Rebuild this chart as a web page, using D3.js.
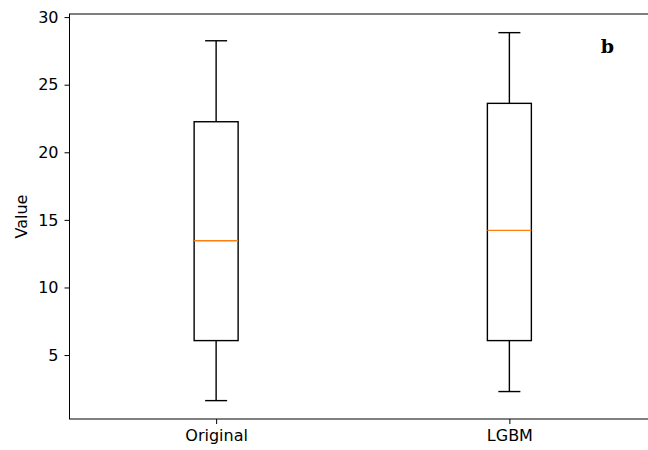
<!DOCTYPE html>
<html>
<head>
<meta charset="utf-8">
<script src="https://cdn.jsdelivr.net/npm/d3@7"></script>
<style>
  html, body { margin: 0; padding: 0; background: #fff; }
  svg { display: block; }
</style>
</head>
<body>
<svg id="chart" width="648" height="450"></svg>
<script>
// Data
const categories = ["Original", "LGBM"];
const whiskerLow  = [1.63, 2.30];
const q1          = [6.07, 6.07];
const median      = [13.46, 14.22];
const q3          = [22.26, 23.62];
const whiskerHigh = [28.25, 28.85];
const yTicks = [5, 10, 15, 20, 25, 30];
const yLabel = "Value";
const panelLabel = "b";

const svg = d3.select("#chart");
const mLeft = 69.5, mRight = 656, mTop = 14, mBottom = 419;
const sans = "'DejaVu Sans', sans-serif";
const fs = 16;

const x = d3.scaleLinear().domain([0.5, 2.5]).range([mLeft, mRight]);
const y = d3.scaleLinear().domain([0.27, 30.23]).range([mBottom, mTop]);

const boxW = 0.15, capW = 0.075;
const data = categories.map((c, i) => ({
  c, pos: i + 1, lo: whiskerLow[i], q1: q1[i], med: median[i], q3: q3[i], hi: whiskerHigh[i]
}));

const g = svg.append("g");
const boxes = g.selectAll("g.box").data(data).enter().append("g").attr("class", "box");

// whiskers
boxes.append("line")
  .attr("x1", d => x(d.pos)).attr("x2", d => x(d.pos))
  .attr("y1", d => y(d.q3)).attr("y2", d => y(d.hi))
  .attr("stroke", "#000").attr("stroke-width", 1.4);
boxes.append("line")
  .attr("x1", d => x(d.pos)).attr("x2", d => x(d.pos))
  .attr("y1", d => y(d.q1)).attr("y2", d => y(d.lo))
  .attr("stroke", "#000").attr("stroke-width", 1.4);
// caps
boxes.append("line")
  .attr("x1", d => x(d.pos - capW / 2)).attr("x2", d => x(d.pos + capW / 2))
  .attr("y1", d => y(d.hi)).attr("y2", d => y(d.hi))
  .attr("stroke", "#000").attr("stroke-width", 1.4);
boxes.append("line")
  .attr("x1", d => x(d.pos - capW / 2)).attr("x2", d => x(d.pos + capW / 2))
  .attr("y1", d => y(d.lo)).attr("y2", d => y(d.lo))
  .attr("stroke", "#000").attr("stroke-width", 1.4);
// box
boxes.append("rect")
  .attr("x", d => x(d.pos - boxW / 2))
  .attr("width", d => x(d.pos + boxW / 2) - x(d.pos - boxW / 2))
  .attr("y", d => y(d.q3))
  .attr("height", d => y(d.q1) - y(d.q3))
  .attr("fill", "none").attr("stroke", "#000").attr("stroke-width", 1.4);
// median
boxes.append("line")
  .attr("x1", d => x(d.pos - boxW / 2)).attr("x2", d => x(d.pos + boxW / 2))
  .attr("y1", d => y(d.med)).attr("y2", d => y(d.med))
  .attr("stroke", "#ff7f0e").attr("stroke-width", 1.4);

// axes
const yAxis = d3.axisLeft(y).tickValues(yTicks).tickSize(5).tickPadding(6);
const yg = svg.append("g").attr("transform", `translate(${mLeft},0)`).call(yAxis);
yg.select(".domain").remove();
yg.selectAll("line").attr("stroke", "#000").attr("stroke-width", 1);
yg.selectAll("text").attr("fill", "#000")
  .style("font-family", sans).style("font-size", fs + "px");

const xAxis = d3.axisBottom(x).tickValues([1, 2]).tickFormat((d) => categories[d - 1]).tickSize(5).tickPadding(6);
const xg = svg.append("g").attr("transform", `translate(0,${mBottom})`).call(xAxis);
xg.select(".domain").remove();
xg.selectAll("line").attr("stroke", "#000").attr("stroke-width", 1);
xg.selectAll("text").attr("fill", "#000")
  .style("font-family", sans).style("font-size", fs + "px");

// spines
svg.append("rect").attr("x", mLeft).attr("y", mTop)
  .attr("width", mRight - mLeft).attr("height", mBottom - mTop)
  .attr("fill", "none").attr("stroke", "#000").attr("stroke-width", 1);

// y label
svg.append("text")
  .attr("transform", `translate(27,${(mTop + mBottom) / 2}) rotate(-90)`)
  .attr("text-anchor", "middle")
  .style("font-family", sans).style("font-size", fs + "px")
  .text(yLabel);

// panel label
svg.append("text")
  .attr("x", 614).attr("y", 53)
  .attr("text-anchor", "end")
  .style("font-family", "'DejaVu Serif', 'Liberation Serif', serif")
  .style("font-weight", "bold")
  .style("font-size", "19px")
  .text(panelLabel);
</script>
</body>
</html>
